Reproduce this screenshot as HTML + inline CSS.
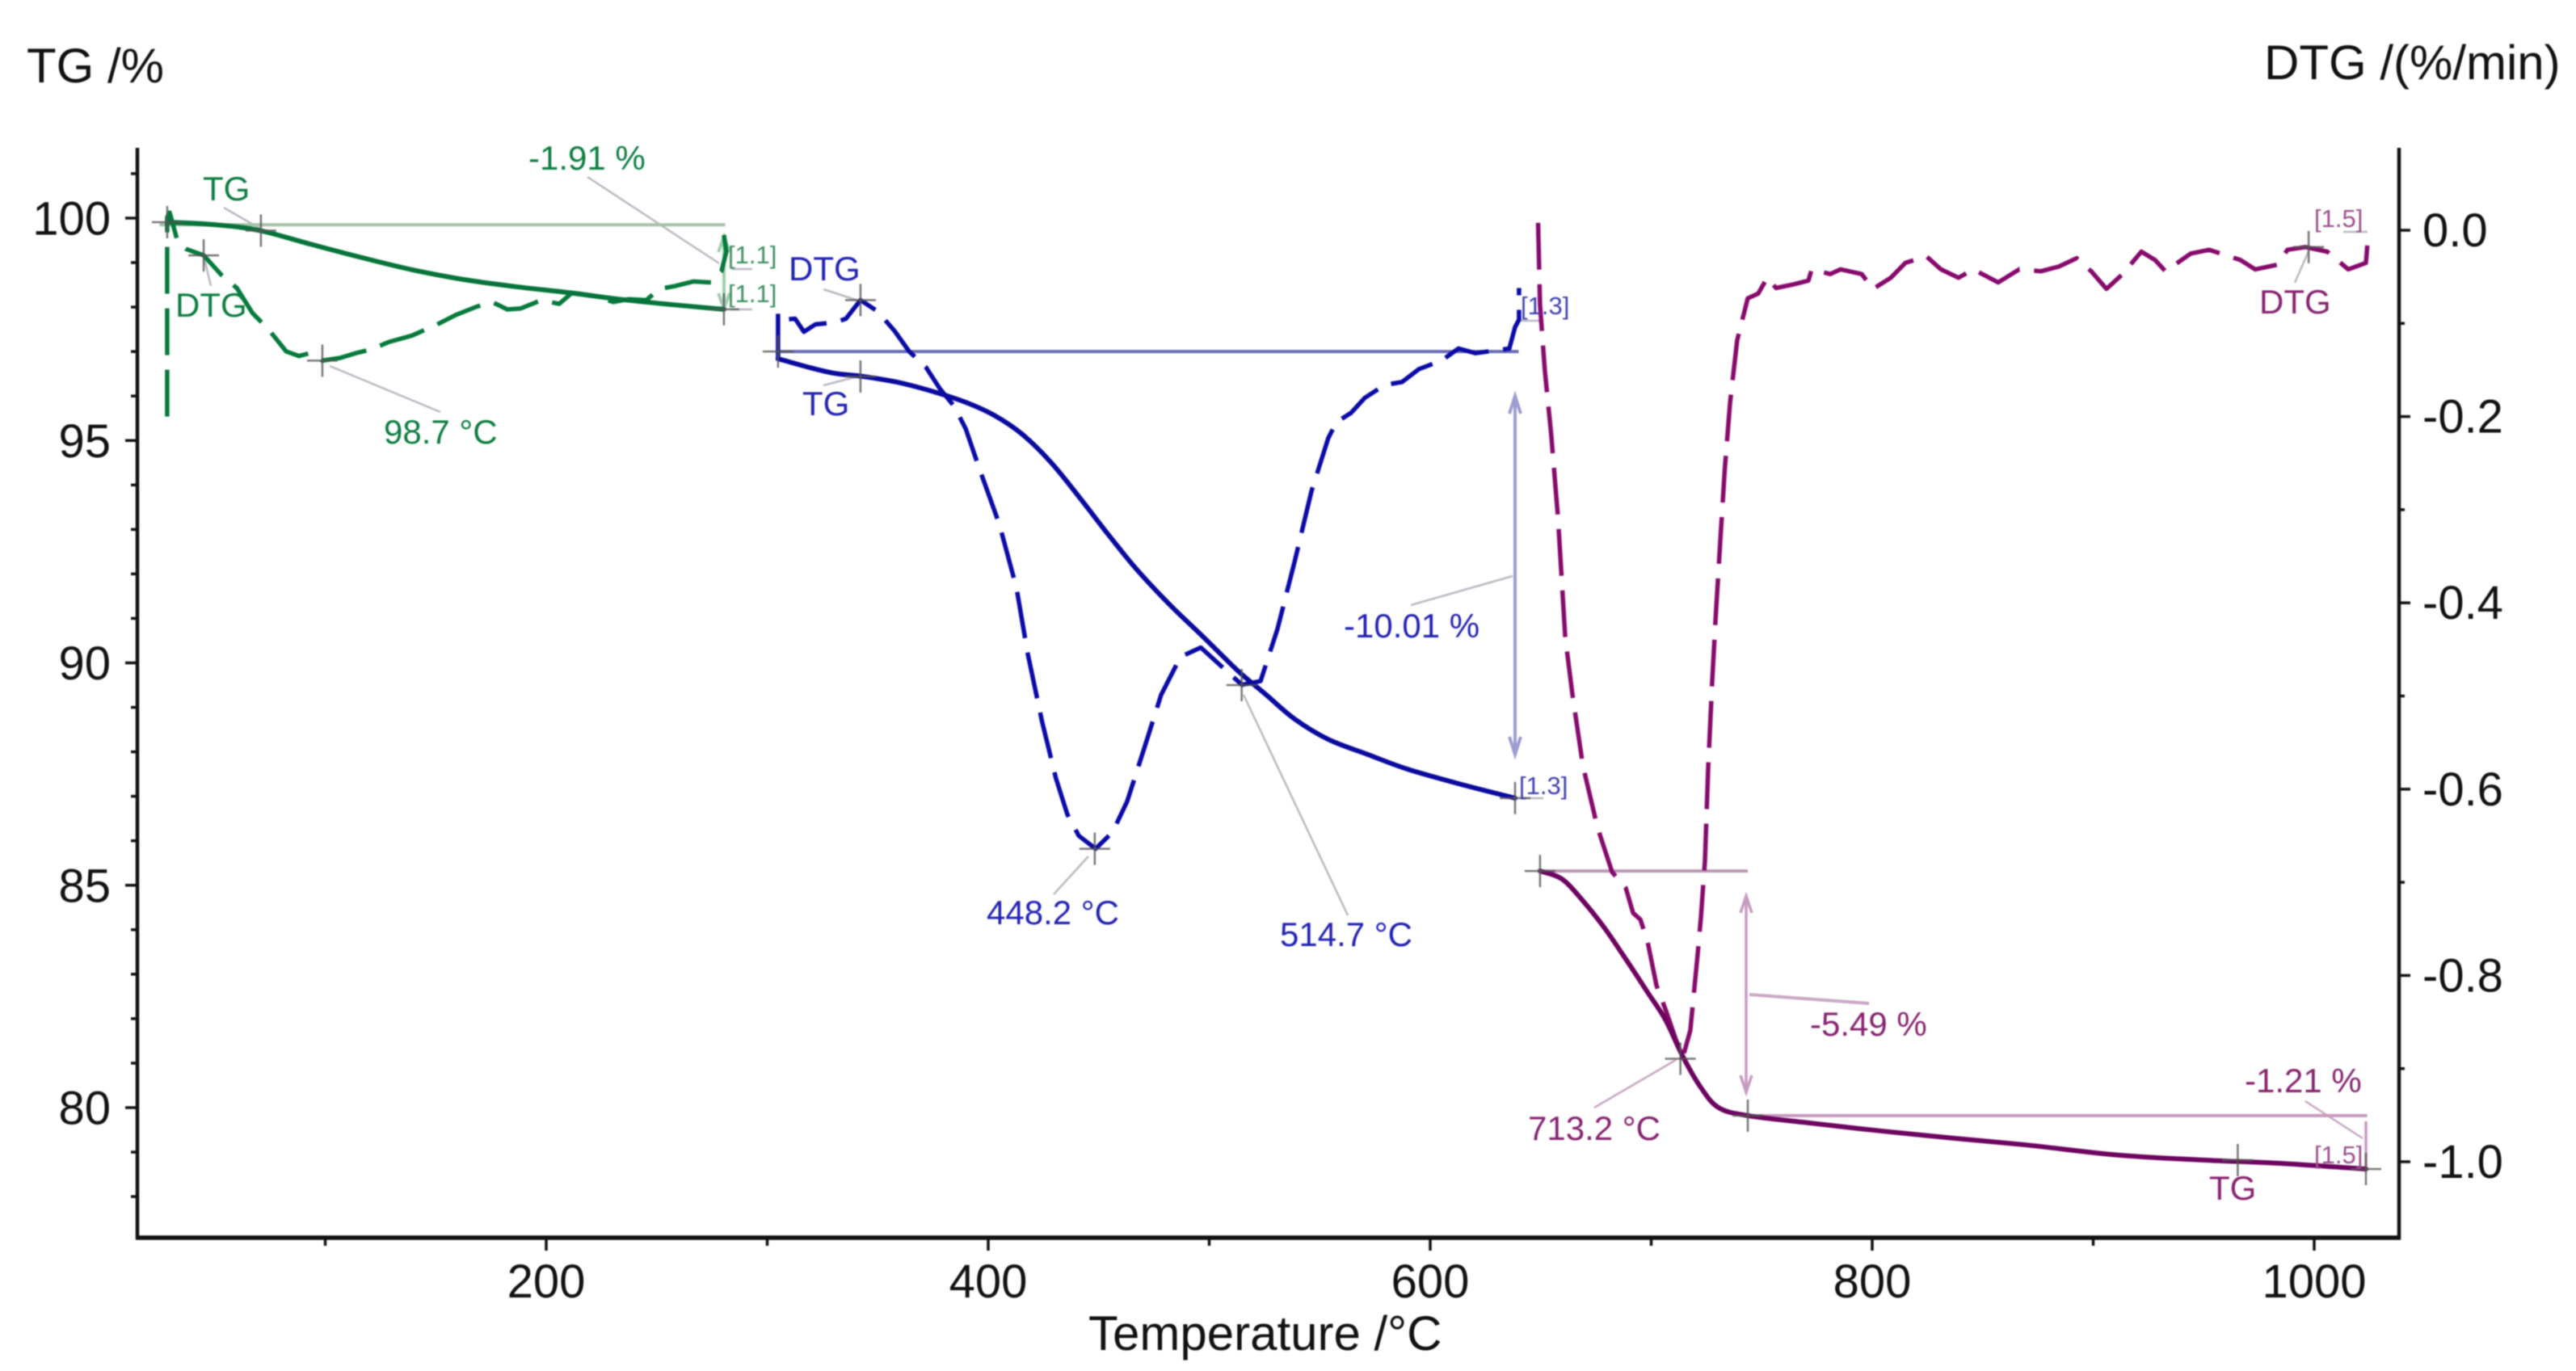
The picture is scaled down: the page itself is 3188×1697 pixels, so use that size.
<!DOCTYPE html>
<html>
<head>
<meta charset="utf-8">
<style>
html,body{margin:0;padding:0;background:#fff;width:3188px;height:1697px;overflow:hidden}
svg{display:block;filter:blur(0.7px)}
text{font-family:"Liberation Sans",sans-serif}
.ax{font-size:58px;fill:#111}
.title{font-size:60px;fill:#111}
.g{font-size:42px;fill:#0c7d40}
.b{font-size:42px;fill:#2222b4}
.p{font-size:42px;fill:#86246f}
.sg{font-size:31px;fill:#3f8f60}
.sb{font-size:31px;fill:#4040b0}
.sp{font-size:31px;fill:#9a4f8c}
.lead{stroke:#b9b9c2;stroke-width:2.5;fill:none}
</style>
</head>
<body>
<svg id="chart" width="3188" height="1697" viewBox="0 0 3188 1697" xmlns="http://www.w3.org/2000/svg">
  <rect width="3188" height="1697" fill="#fff"/>
  <g id="annotation-layer">
    <line class="lead" x1="727" y1="219" x2="890" y2="326"/>
    <line class="lead" x1="277" y1="257" x2="322" y2="283"/>
    <line class="lead" x1="252" y1="316" x2="261" y2="354"/>
    <line class="lead" x1="408" y1="453" x2="545" y2="510"/>
    <line class="lead" x1="1019" y1="358" x2="1065" y2="373"/>
    <line class="lead" x1="1019" y1="477" x2="1065" y2="465"/>
    <line class="lead" x1="1872" y1="713" x2="1746" y2="749"/>
    <line class="lead" x1="1347" y1="1060" x2="1304" y2="1107"/>
    <line class="lead" x1="1539" y1="860" x2="1668" y2="1133"/>
    <line class="lead" x1="2857" y1="311" x2="2840" y2="350" stroke="#c9a8c4"/>
    <line class="lead" x1="2074" y1="1312" x2="1973" y2="1371" style="stroke:#c9a8c4"/>
    <line class="lead" x1="2165" y1="1231" x2="2313" y2="1242" style="stroke:#c9a8c4;stroke-width:4"/>
    <line class="lead" x1="2853" y1="1363" x2="2924" y2="1409" style="stroke:#c9a8c4"/>
    <line class="lead" x1="905" y1="333" x2="931" y2="333"/>
    <line class="lead" x1="905" y1="383" x2="931" y2="383"/>
    <line class="lead" x1="1882" y1="397" x2="1910" y2="397"/>
    <line class="lead" x1="1882" y1="988" x2="1910" y2="988"/>
    <line class="lead" x1="2900" y1="287" x2="2930" y2="287"/>
    <g fill="none" stroke="#9fd0ae" stroke-width="4">
      <line x1="896" y1="293" x2="896" y2="382"/>
      <polyline points="889,312 896,293 903,312"/>
      <polyline points="889,363 896,382 903,363"/>
    </g>
    <g fill="none" stroke="#9d9dcf" stroke-width="4">
      <line x1="1875" y1="490" x2="1875" y2="934"/>
      <polyline points="1868,512 1875,490 1882,512"/>
      <polyline points="1868,912 1875,934 1882,912"/>
    </g>
    <g fill="none" stroke="#c79ac0" stroke-width="3.5">
      <line x1="2161" y1="1109" x2="2161" y2="1352"/>
      <polyline points="2154,1130 2161,1109 2168,1130"/>
      <polyline points="2154,1331 2161,1352 2168,1331"/>
    </g>
    <line x1="2928" y1="1388" x2="2928" y2="1446" stroke="#c79ac0" stroke-width="3.5"/>
  </g>
  <g id="baseline-layer"></g>
  <g id="axes-layer"></g>
  <g id="series-layer"></g>
  <g id="cross-layer"></g>

  <text class="title" x="33" y="102">TG /%</text>
  <text class="title" x="2802" y="98">DTG /(%/min)</text>
  <text class="title" x="1347" y="1671">Temperature /°C</text>

  <text class="g" x="251" y="248">TG</text>
  <text class="g" x="654" y="210">-1.91 %</text>
  <text class="g" x="217" y="392">DTG</text>
  <text class="g" x="475" y="549">98.7 °C</text>
  <text class="sg" x="901" y="326">[1.1]</text>
  <text class="sg" x="901" y="374">[1.1]</text>

  <text class="b" x="976" y="347">DTG</text>
  <text class="b" x="993" y="514">TG</text>
  <text class="b" x="1663" y="789">-10.01 %</text>
  <text class="b" x="1221" y="1144">448.2 °C</text>
  <text class="b" x="1584" y="1171">514.7 °C</text>
  <text class="sb" x="1882" y="389">[1.3]</text>
  <text class="sb" x="1880" y="983">[1.3]</text>

  <text class="p" x="1891" y="1411">713.2 °C</text>
  <text class="p" x="2240" y="1282">-5.49 %</text>
  <text class="p" x="2778" y="1352">-1.21 %</text>
  <text class="p" x="2734" y="1485">TG</text>
  <text class="p" x="2796" y="388">DTG</text>
  <text class="sp" x="2864" y="281">[1.5]</text>
  <text class="sp" x="2864" y="1440">[1.5]</text>
</svg>
<script>
const xMajorTicks=[200,400,600,800,1000];
const xMinorTicks=[100,300,500,700,900];
const tgMajorTicks=[100,95,90,85,80];
const tgMinorTicks=[101,99,98,97,96,94,93,92,91,89,88,87,86,84,83,82,81,79,78];
const dtgMajorTicks=[0,-0.2,-0.4,-0.6,-0.8,-1.0];
const dtgMinorTicks=[-0.1,-0.3,-0.5,-0.7,-0.9];

const greenTgTemp=[28.5,50.8,70.6,92.9,115.9,139.3,162.7,186.1,209.1,232.5,255.9,280.4];
const greenTgValue=[99.91,99.85,99.72,99.42,99.12,98.84,98.62,98.46,98.33,98.18,98.06,97.95];

const greenDtgTemp=[28.5,28.5,29.6,33.3,36.9,45.0,53.0,60.0,67.1,74.2,82.3,88.1,92.9,98.7,106.8,113.7,120.7,128.7,139.3,144.1,149.9,159.0,168.6,175.5,182.4,188.3,197.8,205.9,211.7,220.8,230.3,237.3,245.3,251.2,258.1,266.5,274.6,279.3,281.5,280.4];
const greenDtgValue=[-0.200,0.014,0.019,-0.013,-0.020,-0.027,-0.048,-0.062,-0.089,-0.106,-0.130,-0.135,-0.132,-0.140,-0.137,-0.132,-0.128,-0.120,-0.113,-0.108,-0.102,-0.091,-0.082,-0.077,-0.085,-0.084,-0.075,-0.079,-0.067,-0.070,-0.077,-0.074,-0.075,-0.063,-0.060,-0.055,-0.056,-0.044,-0.023,-0.005];

const blueTgTemp=[304.9,317.7,330.5,343.3,358.9,374.4,389.8,402.6,415.4,428.2,441.0,453.8,466.5,481.9,497.4,512.8,525.8,538.6,553.9,571.8,589.8,615.4,638.4];
const blueTgValue=[96.84,96.66,96.51,96.44,96.31,96.11,95.86,95.57,95.14,94.52,93.74,92.92,92.14,91.32,90.58,89.83,89.28,88.74,88.28,87.94,87.61,87.25,86.96];

const blueDtgTemp=[304.9,304.9,307.5,312.6,316.6,321.8,330.5,335.6,342.2,349.9,357.6,364.2,371.8,378.1,384.6,389.8,396.0,405.1,412.8,417.9,424.3,430.7,435.8,441.0,448.6,456.3,462.9,470.6,478.2,487.0,496.2,506.4,514.8,523.2,530.9,538.6,546.3,553.9,557.6,564.2,570.4,579.5,587.2,594.9,605.1,612.8,620.5,635.8,638.4,640.2,640.2];
const blueDtgValue=[-0.140,-0.089,-0.096,-0.095,-0.109,-0.101,-0.099,-0.095,-0.075,-0.087,-0.108,-0.130,-0.147,-0.170,-0.189,-0.213,-0.256,-0.316,-0.384,-0.455,-0.527,-0.589,-0.627,-0.650,-0.664,-0.646,-0.613,-0.556,-0.499,-0.458,-0.448,-0.470,-0.488,-0.484,-0.428,-0.356,-0.280,-0.223,-0.206,-0.196,-0.180,-0.166,-0.163,-0.149,-0.140,-0.127,-0.132,-0.127,-0.104,-0.096,-0.062];

const purpleTgTemp=[649.7,659.6,669.1,679.0,688.5,698.4,706.4,714.4,722.5,730.5,743.7,772.6,805.1,837.3,869.8,911.9,950.6,983.2,1023.4];
const purpleTgValue=[85.32,85.14,84.65,84.03,83.34,82.59,81.98,81.14,80.45,80.00,79.82,79.65,79.47,79.31,79.16,78.93,78.82,78.75,78.62];

const purpleDtgTemp=[648.8,649.7,651.9,654.7,657.8,661.1,664.4,669.1,675.7,682.3,688.5,691.8,695.1,698.4,702.4,706.4,711.2,714.4,717.7,721.0,722.5,724.3,725.8,727.6,729.1,731.3,733.3,735.7,738.9,743.7,748.4,752.5,756.5,764.5,771.1,772.6,781.0,785.7,795.2,800.4,808.4,815.0,824.5,831.1,839.1,845.7,857.0,866.5,876.4,884.4,892.5,899.1,906.0,913.3,921.8,928.0,932.7,944.2,952.5,966.7,973.3,983.2,987.9,996.0,1005.9,1015.4,1023.4,1024.5];
const purpleDtgValue=[0.008,-0.080,-0.151,-0.218,-0.308,-0.437,-0.499,-0.575,-0.641,-0.689,-0.706,-0.733,-0.740,-0.764,-0.811,-0.836,-0.869,-0.887,-0.859,-0.778,-0.738,-0.677,-0.575,-0.484,-0.418,-0.332,-0.256,-0.185,-0.118,-0.073,-0.068,-0.051,-0.062,-0.058,-0.054,-0.042,-0.047,-0.042,-0.047,-0.063,-0.051,-0.035,-0.028,-0.042,-0.051,-0.042,-0.056,-0.042,-0.044,-0.039,-0.030,-0.044,-0.063,-0.047,-0.023,-0.032,-0.044,-0.025,-0.021,-0.032,-0.042,-0.037,-0.021,-0.018,-0.023,-0.042,-0.035,-0.002];

const tgCrossTemp=[28.5,70.9,280.4,304.9,342.2,514.7,638.4,649.7,713.2,743.7,965.4,1023.4];
const tgCrossValue=[99.91,99.72,97.95,97.00,96.44,89.50,86.96,85.32,81.10,79.82,78.82,78.62];
const dtgCrossTemp=[45.0,98.7,342.2,448.2,997.5];
const dtgCrossValue=[-0.027,-0.140,-0.075,-0.664,-0.018];

const baselineStart=[25,304,649,743.7];
const baselineEnd=[281,640,743.7,1024];
const baselineLevel=[99.85,97.0,85.32,79.82];
const baselineColors=['#a3c4a8','#6a6ab4','#bb96b4','#c79ac0'];

const NS='http://www.w3.org/2000/svg';
const xScale=t=>676+(t-200)*2.735;
const yTg=v=>270+(100-v)*55.05;
const yDtg=v=>285-v*1153;

function make(tag,parentId,name,props){
  const el=document.createElementNS(NS,tag);
  
  
  for(const k in props) el.setAttribute(k,props[k]);
  document.getElementById(parentId).appendChild(el);
  return el;
}
function straightPath(pts){
  return pts.map((p,i)=>(i?'L':'M')+p[0].toFixed(1)+' '+p[1].toFixed(1)).join(' ');
}
function smoothPath(pts){
  let d='M'+pts[0][0].toFixed(1)+' '+pts[0][1].toFixed(1);
  for(let i=0;i<pts.length-1;i++){
    const p0=pts[Math.max(0,i-1)],p1=pts[i],p2=pts[i+1],p3=pts[Math.min(pts.length-1,i+2)];
    const c1x=p1[0]+(p2[0]-p0[0])/6,c1y=p1[1]+(p2[1]-p0[1])/6;
    const c2x=p2[0]-(p3[0]-p1[0])/6,c2y=p2[1]-(p3[1]-p1[1])/6;
    d+=' C'+c1x.toFixed(1)+' '+c1y.toFixed(1)+' '+c2x.toFixed(1)+' '+c2y.toFixed(1)+' '+p2[0].toFixed(1)+' '+p2[1].toFixed(1);
  }
  return d;
}
function drawTg(temps,vals,color,name){
  const pts=temps.map((t,i)=>[xScale(t),yTg(vals[i])]);
  make('path','series-layer',name,{d:smoothPath(pts),fill:'none',stroke:color,'stroke-width':6,'stroke-linejoin':'round','stroke-linecap':'round'});
}
function drawDtg(temps,vals,color,name){
  const pts=temps.map((t,i)=>[xScale(t),yDtg(vals[i])]);
  make('path','series-layer',name,{d:straightPath(pts),fill:'none',stroke:color,'stroke-width':5.5,'stroke-linejoin':'round','stroke-dasharray':'58 18'});
}

/* axes */
make('line','axes-layer','tg-axis-line',{x1:170,y1:183,x2:170,y2:1534,stroke:'#111','stroke-width':4.5});
make('line','axes-layer','dtg-axis-line',{x1:2969,y1:183,x2:2969,y2:1534,stroke:'#111','stroke-width':4.5});
make('line','axes-layer','x-axis-line',{x1:168,y1:1532,x2:2971,y2:1532,stroke:'#111','stroke-width':5.5});

xMajorTicks.forEach(t=>{
  make('line','axes-layer','x-major-tick',{x1:xScale(t),y1:1532,x2:xScale(t),y2:1548,stroke:'#111','stroke-width':3.5});
  const lab=make('text','axes-layer','x-tick-label',{x:xScale(t),y:1606,'text-anchor':'middle',class:'ax'});
  lab.textContent=String(t);
});
xMinorTicks.forEach(t=>{
  make('line','axes-layer','x-minor-tick',{x1:xScale(t),y1:1532,x2:xScale(t),y2:1542,stroke:'#111','stroke-width':3.5});
});
tgMajorTicks.forEach(v=>{
  make('line','axes-layer','tg-major-tick',{x1:155,y1:yTg(v),x2:170,y2:yTg(v),stroke:'#111','stroke-width':3.5});
  const lab=make('text','axes-layer','tg-tick-label',{x:137,y:yTg(v)+20.5,'text-anchor':'end',class:'ax'});
  lab.textContent=String(v);
});
tgMinorTicks.forEach(v=>{
  make('line','axes-layer','tg-minor-tick',{x1:162,y1:yTg(v),x2:170,y2:yTg(v),stroke:'#111','stroke-width':3.5});
});
dtgMajorTicks.forEach(v=>{
  make('line','axes-layer','dtg-major-tick',{x1:2969,y1:yDtg(v),x2:2983,y2:yDtg(v),stroke:'#111','stroke-width':3.5});
  const lab=make('text','axes-layer','dtg-tick-label',{x:2998,y:yDtg(v)+20,class:'ax'});
  lab.textContent=v.toFixed(1);
});
dtgMinorTicks.forEach(v=>{
  make('line','axes-layer','dtg-minor-tick',{x1:2969,y1:yDtg(v),x2:2976,y2:yDtg(v),stroke:'#111','stroke-width':3.5});
});

/* step baselines */
baselineStart.forEach((s,i)=>{
  make('line','baseline-layer','step-baseline',{x1:xScale(s),y1:yTg(baselineLevel[i]),x2:xScale(baselineEnd[i]),y2:yTg(baselineLevel[i]),stroke:baselineColors[i],'stroke-width':4});
});

/* series */
drawDtg(greenDtgTemp,greenDtgValue,'#067a3c','green-dtg-curve');
drawTg(greenTgTemp,greenTgValue,'#06743a','green-tg-curve');
drawDtg(blueDtgTemp,blueDtgValue,'#0a0aa6','blue-dtg-curve');
drawTg(blueTgTemp,blueTgValue,'#0a0a9e','blue-tg-curve');
drawDtg(purpleDtgTemp,purpleDtgValue,'#860a6c','purple-dtg-curve');
drawTg(purpleTgTemp,purpleTgValue,'#6c0460','purple-tg-curve');

/* crosshair markers */
function cross(cx,cy){
  make('line','cross-layer','marker-cross-horizontal',{x1:cx-19,y1:cy,x2:cx+19,y2:cy,stroke:'#555','stroke-width':2.5,opacity:.8});
  make('line','cross-layer','marker-cross-vertical',{x1:cx,y1:cy-20,x2:cx,y2:cy+20,stroke:'#555','stroke-width':2.5,opacity:.8});
}
tgCrossTemp.forEach((t,i)=>cross(xScale(t),yTg(tgCrossValue[i])));
dtgCrossTemp.forEach((t,i)=>cross(xScale(t),yDtg(dtgCrossValue[i])));
</script>
</body>
</html>
